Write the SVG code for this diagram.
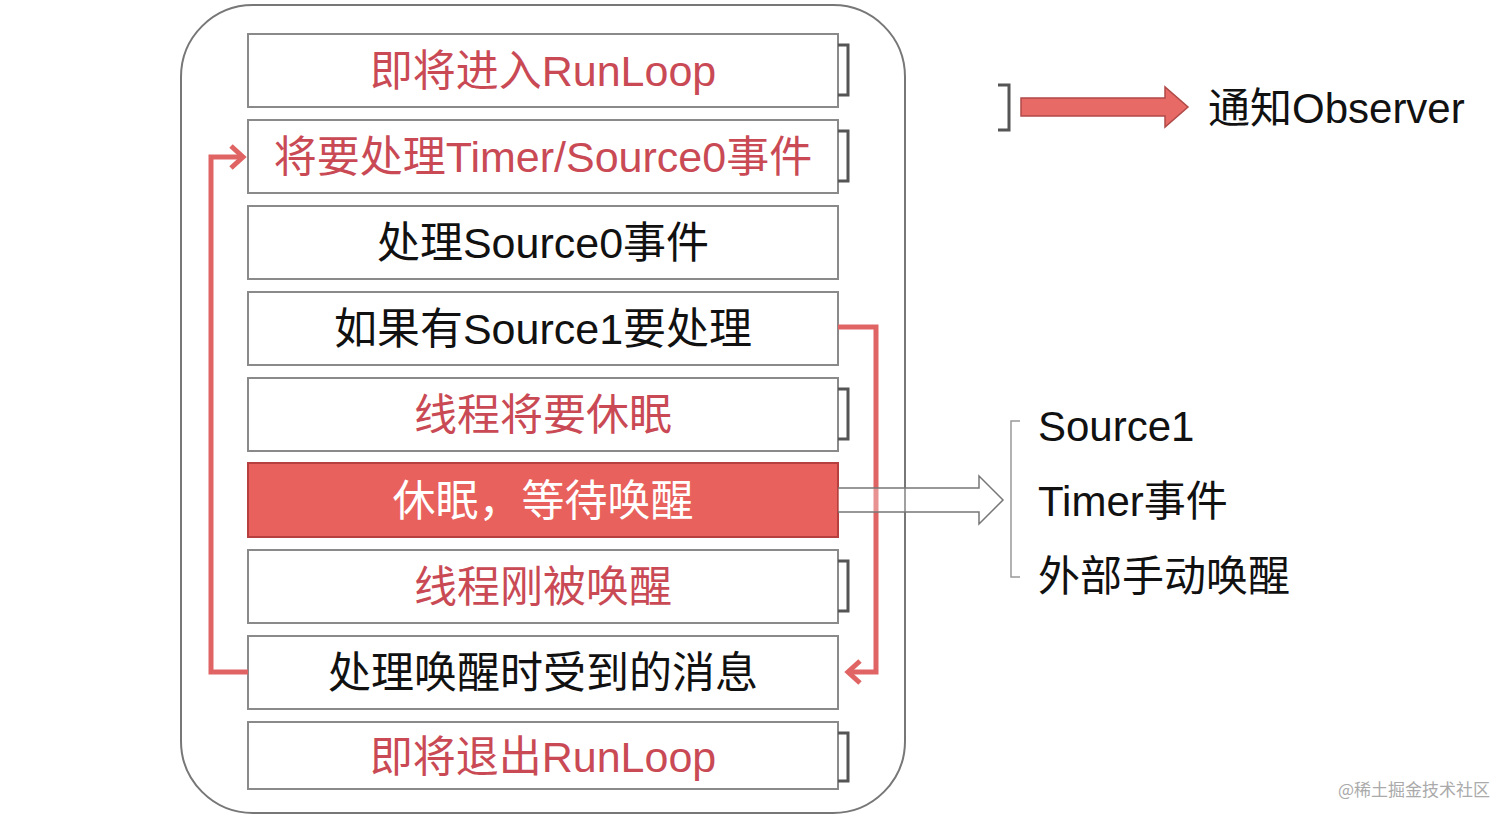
<svg xmlns="http://www.w3.org/2000/svg" width="1512" height="822" viewBox="0 0 1512 822">
<style>
.box{fill:#fff;stroke:#8a8a8a;stroke-width:2}
.hot{fill:#E8615D;stroke:#B5403D;stroke-width:2}
.t{font-family:"Liberation Sans","Noto Sans CJK SC",sans-serif;font-size:43px;text-anchor:middle}
.red{fill:#C94A55}
.blk{fill:#111}
.wht{fill:#fff}
.brk{fill:none;stroke:#555;stroke-width:3}
.loop{fill:none;stroke:#E06464;stroke-width:5;stroke-linejoin:miter}
.lg{font-family:"Liberation Sans","Noto Sans CJK SC",sans-serif;font-size:42px;fill:#111}
</style>
<rect x="181" y="5" width="724" height="808" rx="72" ry="72" fill="#fff" stroke="#777" stroke-width="2"/>
<g id="n1"><rect class="box" x="248" y="34" width="590" height="73"/><text class="t red" x="543" y="86">即将进入RunLoop</text><path class="brk" d="M838 45 H848 V95 H838"/></g>
<g id="n2"><rect class="box" x="248" y="120" width="590" height="73"/><text class="t red" x="543" y="172">将要处理Timer/Source0事件</text><path class="brk" d="M838 131 H848 V181 H838"/></g>
<g id="n3"><rect class="box" x="248" y="206" width="590" height="73"/><text class="t blk" x="543" y="258">处理Source0事件</text></g>
<g id="n4"><rect class="box" x="248" y="292" width="590" height="73"/><text class="t blk" x="543" y="344">如果有Source1要处理</text></g>
<g id="n5"><rect class="box" x="248" y="378" width="590" height="73"/><text class="t red" x="543" y="430">线程将要休眠</text><path class="brk" d="M838 389 H848 V439 H838"/></g>
<g id="n6"><rect class="hot" x="248" y="463" width="590" height="74"/><text class="t wht" x="543" y="516">休眠，等待唤醒</text></g>
<g id="n7"><rect class="box" x="248" y="550" width="590" height="73"/><text class="t red" x="543" y="602">线程刚被唤醒</text><path class="brk" d="M838 561 H848 V611 H838"/></g>
<g id="n8"><rect class="box" x="248" y="636" width="590" height="73"/><text class="t blk" x="543" y="688">处理唤醒时受到的消息</text></g>
<g id="n9"><rect class="box" x="248" y="722" width="590" height="67"/><text class="t red" x="543" y="772">即将退出RunLoop</text><path class="brk" d="M838 733 H848 V781 H838"/></g>
<g id="connectors">
<path class="loop" d="M248 672 H211 V157 H242"/>
<path class="loop" d="M231 146 L243 157 L231 168"/>
<path class="loop" d="M838 327 H876 V672 H848"/>
<path class="loop" d="M860 661 L848 672 L860 683"/>
<path d="M838 488 H979 V476 L1003 500 L979 524 V512 H838" fill="#fff" fill-opacity="0.3" stroke="#777" stroke-width="1.5"/>
</g>
<g id="legend-observer">
<path class="brk" d="M998 85 H1009 V130 H998"/>
<path d="M1021 98 H1165 V87 L1188 107 L1165 127 V116 H1021 Z" fill="#E86A66" stroke="#B04A48" stroke-width="1.5"/>
<text class="lg" x="1208" y="123" font-size="43">通知Observer</text>
</g>
<g id="legend-wake">
<path d="M1020 421 H1011 V577 H1020" fill="none" stroke="#999" stroke-width="1.5"/>
<text class="lg" x="1038" y="441">Source1</text>
<text class="lg" x="1038" y="516">Timer事件</text>
<text class="lg" x="1038" y="591">外部手动唤醒</text>
</g>
<text x="1490" y="796" font-family="'Noto Sans CJK SC',sans-serif" font-size="17" fill="#aaa" text-anchor="end">@稀土掘金技术社区</text>
</svg>
